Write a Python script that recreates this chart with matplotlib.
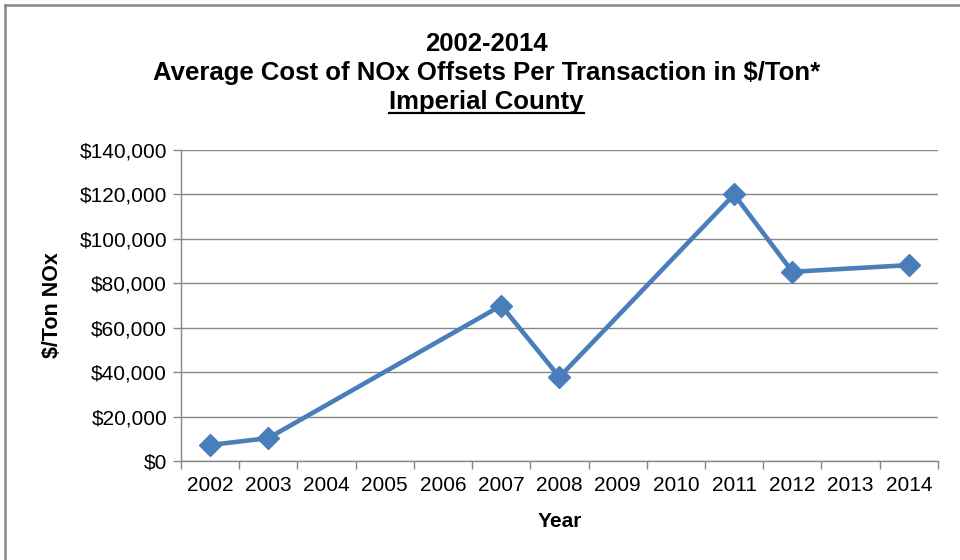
import matplotlib.pyplot as plt
from matplotlib.lines import Line2D
from matplotlib.ticker import FuncFormatter, FixedLocator

plt.rcParams['font.family'] = ['Liberation Sans', 'DejaVu Sans']

# Дані
years = ['2002', '2003', '2004', '2005', '2006', '2007', '2008',
         '2009', '2010', '2011', '2012', '2013', '2014']
data_years = ['2002', '2003', '2007', '2008', '2011', '2012', '2014']
cost = [7200, 10300, 70000, 37800, 120000, 85200, 88200]

x_pos = [years.index(y) for y in data_years]

fig = plt.figure(figsize=(9.6, 5.6), dpi=100)
ax = fig.add_axes([0.1885, 0.1768, 0.7885, 0.5552])

grid_c = '#878787'
ax.plot(x_pos, cost, color='#4A7EBB', linewidth=3.3, marker='D',
        markersize=11.5, markerfacecolor='#4A7EBB', markeredgecolor='#4A7EBB',
        zorder=3)

# Осі
ax.set_xlim(-0.5, len(years) - 0.5)
ax.set_ylim(0, 140000)
ax.set_yticks(range(0, 140001, 20000))
ax.yaxis.set_major_formatter(FuncFormatter(lambda v, p: '${:,.0f}'.format(v)))
ax.set_xticks(range(len(years)))
ax.set_xticklabels(years)
ax.xaxis.set_minor_locator(FixedLocator([i - 0.5 for i in range(len(years) + 1)]))
ax.tick_params(axis='x', which='major', length=0, pad=11, labelsize=15)
ax.tick_params(axis='x', which='minor', length=6, color=grid_c, width=1)
ax.tick_params(axis='y', length=6, color=grid_c, width=1, pad=4, labelsize=15)

ax.grid(axis='y', color=grid_c, linewidth=1)
ax.set_axisbelow(True)
for s in ['top', 'right']:
    ax.spines[s].set_visible(False)
for s in ['left', 'bottom']:
    ax.spines[s].set_color(grid_c)
    ax.spines[s].set_linewidth(1)

ax.set_ylabel('$/Ton NOx', fontsize=15.5, fontweight='bold', labelpad=12)
ax.set_xlabel('Year', fontsize=15, fontweight='bold', labelpad=12)

# Заголовок
fig.text(0.507, 0.921, '2002-2014', ha='center', va='center',
         fontsize=18.5, fontweight='bold')
fig.text(0.507, 0.869, 'Average Cost of NOx Offsets Per Transaction in $/Ton*',
         ha='center', va='center', fontsize=18.5, fontweight='bold')
t3 = fig.text(0.507, 0.817, 'Imperial County', ha='center', va='center',
              fontsize=18.5, fontweight='bold')

fig.canvas.draw()
bb = t3.get_window_extent().transformed(fig.transFigure.inverted())
fig.add_artist(Line2D([bb.x0, bb.x1], [bb.y0 + 0.002, bb.y0 + 0.002],
                      color='black', linewidth=1.6, transform=fig.transFigure))

# Рамка
fig.add_artist(Line2D([0.005, 1.0], [0.991, 0.991], color='#888888',
                      linewidth=1.8, transform=fig.transFigure))
fig.add_artist(Line2D([0.005, 0.005], [0.0, 0.991], color='#888888',
                      linewidth=1.8, transform=fig.transFigure))

fig.savefig('out.png', dpi=100)
